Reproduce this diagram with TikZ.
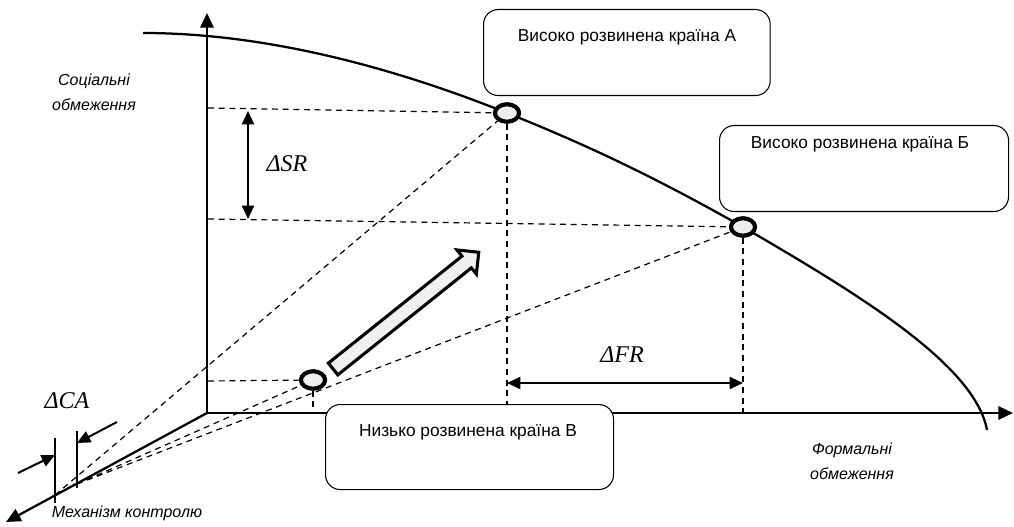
\documentclass[tikz,border=0pt]{standalone}
\usepackage{fontspec}
\setmainfont{Liberation Sans}
\newfontfamily\deltafont{Liberation Serif}
\usepackage{tikz}
\usetikzlibrary{positioning}
\usetikzlibrary{arrows.meta,shapes}
\usetikzlibrary{shapes.arrows,calc}
\tikzstyle{axis}=[draw,line width=1.7pt,-{Triangle[length=11pt,width=10pt]}]
\tikzstyle{guide}=[draw,line width=0.9pt,dash pattern=on 4.5pt off 3.5pt]
\tikzstyle{point}=[ellipse,draw,line width=3pt,fill=black!7,minimum width=18pt,minimum height=13pt,inner sep=0pt]
\tikzstyle{countrybox}=[draw,rounded corners=11pt,fill=white,line width=0.8pt,inner sep=0pt]
\tikzstyle{gap}=[draw,line width=1.5pt,{Triangle[length=10pt,width=9pt]}-{Triangle[length=10pt,width=9pt]}]
\tikzstyle{arrowend}=[draw,line width=1.5pt,-{Triangle[length=10pt,width=9pt]}]
\tikzstyle{axislabel}=[font=\fontsize{12}{19}\selectfont\itshape,align=center]
\tikzstyle{boxtext}=[font=\fontsize{13}{15}\selectfont]
\tikzstyle{delta}=[font=\fontsize{18}{20}\deltafont\itshape]

\begin{document}
\begin{tikzpicture}[x=0.75pt,y=-0.75pt]
    \useasboundingbox (0,0) rectangle (1014,527);

    % axes
    \coordinate (O) at (207,413);
    \coordinate (top) at (207,13);
    \coordinate (right) at (1013,413);
    \coordinate (down) at (6,522);

    % points on the curve
    \coordinate (a) at (507,113);
    \coordinate (b) at (743,227);
    \coordinate (c) at (313,380);

    \foreach \x/\y/\name in {208/108/sa, 208/219/sb, 208/381/sc, 55/495/p1, 77/484/p2}
        \coordinate (\name) at (\x,\y);

    \node[point] (ptA) at (a) {};
    \node[point] (ptB) at (b) {};
    \node[point] (ptC) at (c) {};

    % dashed guides
    \foreach \source/\dest in {sa/ptA, sb/ptB, sc/ptC, p1/ptA, p2/ptB, p2/ptC}
        \path[guide] (\source) -- (\dest);
    \foreach \name in {ptA, ptB, ptC}
        \path[guide] (\name) -- (\name |- O);

    \draw[axis] (O) -- (top);
    \draw[axis] (O) -- (right);
    \draw[axis] (O) -- (down);

    % frontier
    \draw[line width=1.7pt] (143,33) .. controls (270,33) and (400,70) .. (a)
        .. controls (590,146) and (660,180) .. (b)
        .. controls (860,295) and (975,365) .. (987,430);

    \node[point] at (a) {};
    \node[point] at (b) {};
    \node[point] at (c) {};

    \node[single arrow, draw, line width=2.3pt, fill=black!6, inner sep=4.5pt, minimum height=140pt,
          single arrow head extend=6pt, rotate=38.7] (growth) at (403,313) {};

    % gaps
    \coordinate (srtop) at (248,111);
    \coordinate (srbot) at (248,219);
    \coordinate (fr) at (0,383);
    \draw[gap] (srtop) -- (srbot);
    \draw[gap] (ptA |- fr) -- (ptB |- fr);

    \coordinate (ca1) at (117,422);
    \coordinate (ca2) at (77,443);
    \coordinate (ca3) at (18,473);
    \coordinate (ca4) at (55,455);
    \draw[line width=1pt] (55,438) -- (55,503);
    \draw[line width=1pt] (77,431) -- (77,488);
    \draw[arrowend] (ca1) -- (ca2);
    \draw[arrowend] (ca3) -- (ca4);

    \node[delta] (dsr) at (287,164) {ΔSR};
    \node[delta] (dfr) at (622,355) {ΔFR};
    \node[delta] (dca) at (67,401) {ΔCA};

    % boxes
    \node[countrybox, anchor=north west, minimum width=215pt, minimum height=64.5pt] (boxA) at (483,9) {};
    \node[countrybox, anchor=north west, minimum width=216.75pt, minimum height=64.5pt] (boxB) at (719,125) {};
    \node[countrybox, anchor=north west, minimum width=216pt, minimum height=63.75pt] (boxC) at (325,404) {};
    \node[boxtext] (txtA) at (627,37) {Високо розвинена країна А};
    \node[boxtext] (txtB) at (860,144) {Високо розвинена країна Б};
    \node[boxtext] (txtC) at (468,432) {Низько розвинена країна В};

    \node[axislabel] (lsoc) at (94,92) {Соціальні\\обмеження};
    \node[axislabel] (lform) at (852,461) {Формальні\\обмеження};
    \node[axislabel] (lmech) at (127,513) {Механізм контролю};
\end{tikzpicture}
\end{document}
